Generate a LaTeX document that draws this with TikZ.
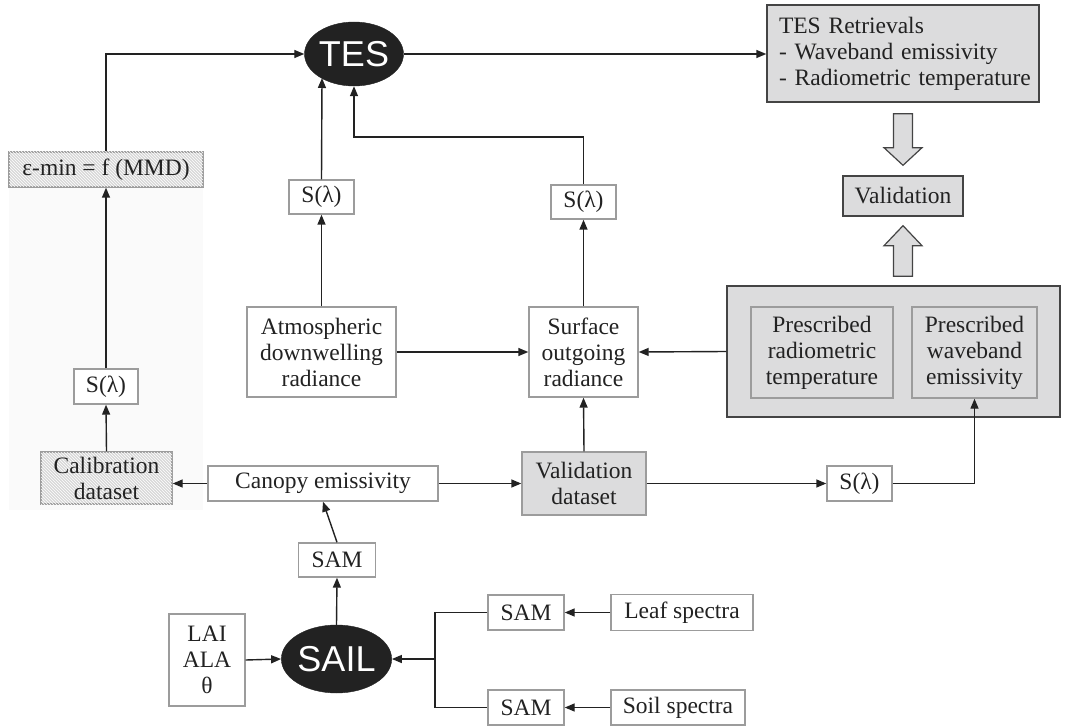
\documentclass[tikz,border=0pt]{standalone}
\usepackage{fontspec}
\setmainfont{Liberation Serif}
\newfontfamily\arialfont{Liberation Sans}
\usetikzlibrary{arrows.meta,patterns,calc,shapes.geometric}
\definecolor{boxgray}{HTML}{DCDCDD}
\definecolor{lightborder}{HTML}{9C9C9C}
\definecolor{darkborder}{HTML}{444444}
\definecolor{ink}{HTML}{222222}
\definecolor{hatchbg}{HTML}{D8D8D8}
\definecolor{faintbg}{HTML}{FAFAFA}
\begin{document}
\begin{tikzpicture}[x=1pt,y=-1pt,
  every node/.style={font=\fontsize{23.5}{26}\selectfont, text=ink, inner sep=0pt, align=center},
  wbox/.style={draw=lightborder, line width=1.4pt, fill=white},
  gbox/.style={draw=darkborder, line width=1.4pt, fill=boxgray},
  gboxl/.style={draw=lightborder, line width=1.4pt, fill=boxgray},
  hbox/.style={draw=lightborder, line width=1.4pt, fill=hatchbg, postaction={pattern=north west lines, pattern color=white}},
  blob/.style={ellipse, fill=ink, draw=ink, text=white, font=\arialfont\fontsize{36}{40}\selectfont},
  conn/.style={draw=ink, line width=1.4pt},
  arr/.style={conn, -{Triangle[length=10pt,width=8pt]}},
  hollow/.style={draw=darkborder, line width=1.2pt, fill=boxgray, line join=miter}
]
\useasboundingbox (0,0) rectangle (1065,727);
% faint background behind the calibration column
\fill[faintbg] (9,187) rectangle (203,510);

% nodes
\node[blob, minimum width=93pt, minimum height=64pt] (tes) at (354,54) {TES};
\node[gbox, minimum width=272pt, minimum height=97pt, text width=248pt, align=left] (ret) at (903,53.5) {\mbox{TES Retrievals}\\\mbox{- Waveband emissivity}\\\mbox{- Radiometric temperature}};
\node[gbox, minimum width=120pt, minimum height=40pt] (val) at (903,196) {Validation};
\node[gbox, minimum width=333pt, minimum height=131pt] (cont) at (893.5,351.5) {};
\node[gboxl, minimum width=142pt, minimum height=91pt] (prt) at (822,352.5) {Prescribed\\radiometric\\temperature};
\node[gboxl, minimum width=125pt, minimum height=91pt] (pwe) at (974.5,352.5) {Prescribed\\waveband\\emissivity};

\node[hbox, minimum width=194pt, minimum height=35pt] (eps) at (106,169.5) {ε-min = f (MMD)};
\node[wbox, minimum width=64pt, minimum height=35pt] (sl1) at (106,386.5) {S(λ)};
\node[hbox, minimum width=131pt, minimum height=52pt] (cal) at (106.5,478) {Calibration\\dataset};

\node[wbox, minimum width=65pt, minimum height=34pt] (sla) at (321.5,197) {S(λ)};
\node[wbox, minimum width=65pt, minimum height=34pt] (slr) at (583.5,202) {S(λ)};
\node[wbox, minimum width=149pt, minimum height=90pt] (atm) at (321.5,352) {Atmospheric\\downwelling\\radiance};
\node[wbox, minimum width=109pt, minimum height=90pt] (sur) at (583.5,352) {Surface\\outgoing\\radiance};

\node[wbox, minimum width=230pt, minimum height=35pt] (can) at (323,483.5) {Canopy emissivity};
\node[gboxl, minimum width=124pt, minimum height=63pt] (vds) at (584,483.5) {Validation\\dataset};
\node[wbox, minimum width=65pt, minimum height=35pt] (slb) at (859.5,483.5) {S(λ)};

\node[wbox, minimum width=77pt, minimum height=34pt] (sam0) at (337,560) {SAM};
\node[blob, minimum width=91pt, minimum height=68pt] (sail) at (336.5,659) {SAIL};
\node[wbox, minimum width=76pt, minimum height=92pt] (lai) at (207,660) {LAI\\ALA\\θ};
\node[wbox, minimum width=76pt, minimum height=35pt] (sam1) at (526,612.5) {SAM};
\node[wbox, minimum width=76pt, minimum height=35pt] (sam2) at (526,707.5) {SAM};
\node[wbox, minimum width=142pt, minimum height=36pt] (leaf) at (682,612.5) {Leaf spectra};
\node[wbox, minimum width=134pt, minimum height=35pt] (soil) at (678,707.5) {Soil spectra};

\coordinate (tesin) at (322,78);
\coordinate (junc) at (435,659);

% connectors
\draw[arr] (eps.north) |- (tes.west);
\draw[arr] (tes.east) -- (ret.west |- tes.east);
\draw[arr] (sla.north) -- (tesin);
\draw[arr] (atm.north) -- (sla.south);
\draw[arr] (sur.north) -- (slr.south);
\draw[arr] (slr.north) -- (slr.north |- 0,137) -| (tes.south);
\draw[arr] (atm.east) -- (sur.west);
\draw[arr] (cont.west) -- (sur.east);
\draw[arr] (vds.north) -- (sur.south);
\draw[arr] (can.east) -- (vds.west);
\draw[arr] (can.west) -- (cal.east |- can.west);
\draw[arr] (vds.east) -- (slb.west);
\draw[arr] (slb.east) -| (pwe.south);
\draw[arr] (cal.north) -- (sl1.south);
\draw[arr] (sl1.north) -- (eps.south);
\draw[arr] (sail.north) -- (sam0.south);
\draw[arr] (sam0.north) -- (can.south);
\draw[arr] (lai.east) -- (sail.west);
\draw[conn] (sam1.west) -| (junc) |- (sam2.west);
\draw[arr] (junc) -- (sail.east);
\draw[arr] (leaf.west) -- (sam1.east);
\draw[arr] (soil.west) -- (sam2.east);

% hollow block arrows
\draw[hollow] ($(ret.south)+(-9.5,11)$) -- ($(ret.south)+(9.5,11)$) -- ($(ret.south)+(9.5,45)$) -- ($(ret.south)+(19,45)$)
  -- ($(val.north)+(0,-10)$) -- ($(ret.south)+(-19,45)$) -- ($(ret.south)+(-9.5,45)$) -- cycle;
\draw[hollow] ($(val.south)+(0,9)$) -- ($(val.south)+(19,29)$) -- ($(val.south)+(9.5,29)$) -- ($(val.south |- cont.north)+(9.5,-9)$)
  -- ($(val.south |- cont.north)+(-9.5,-9)$) -- ($(val.south)+(-9.5,29)$) -- ($(val.south)+(-19,29)$) -- cycle;
\end{tikzpicture}
\end{document}
